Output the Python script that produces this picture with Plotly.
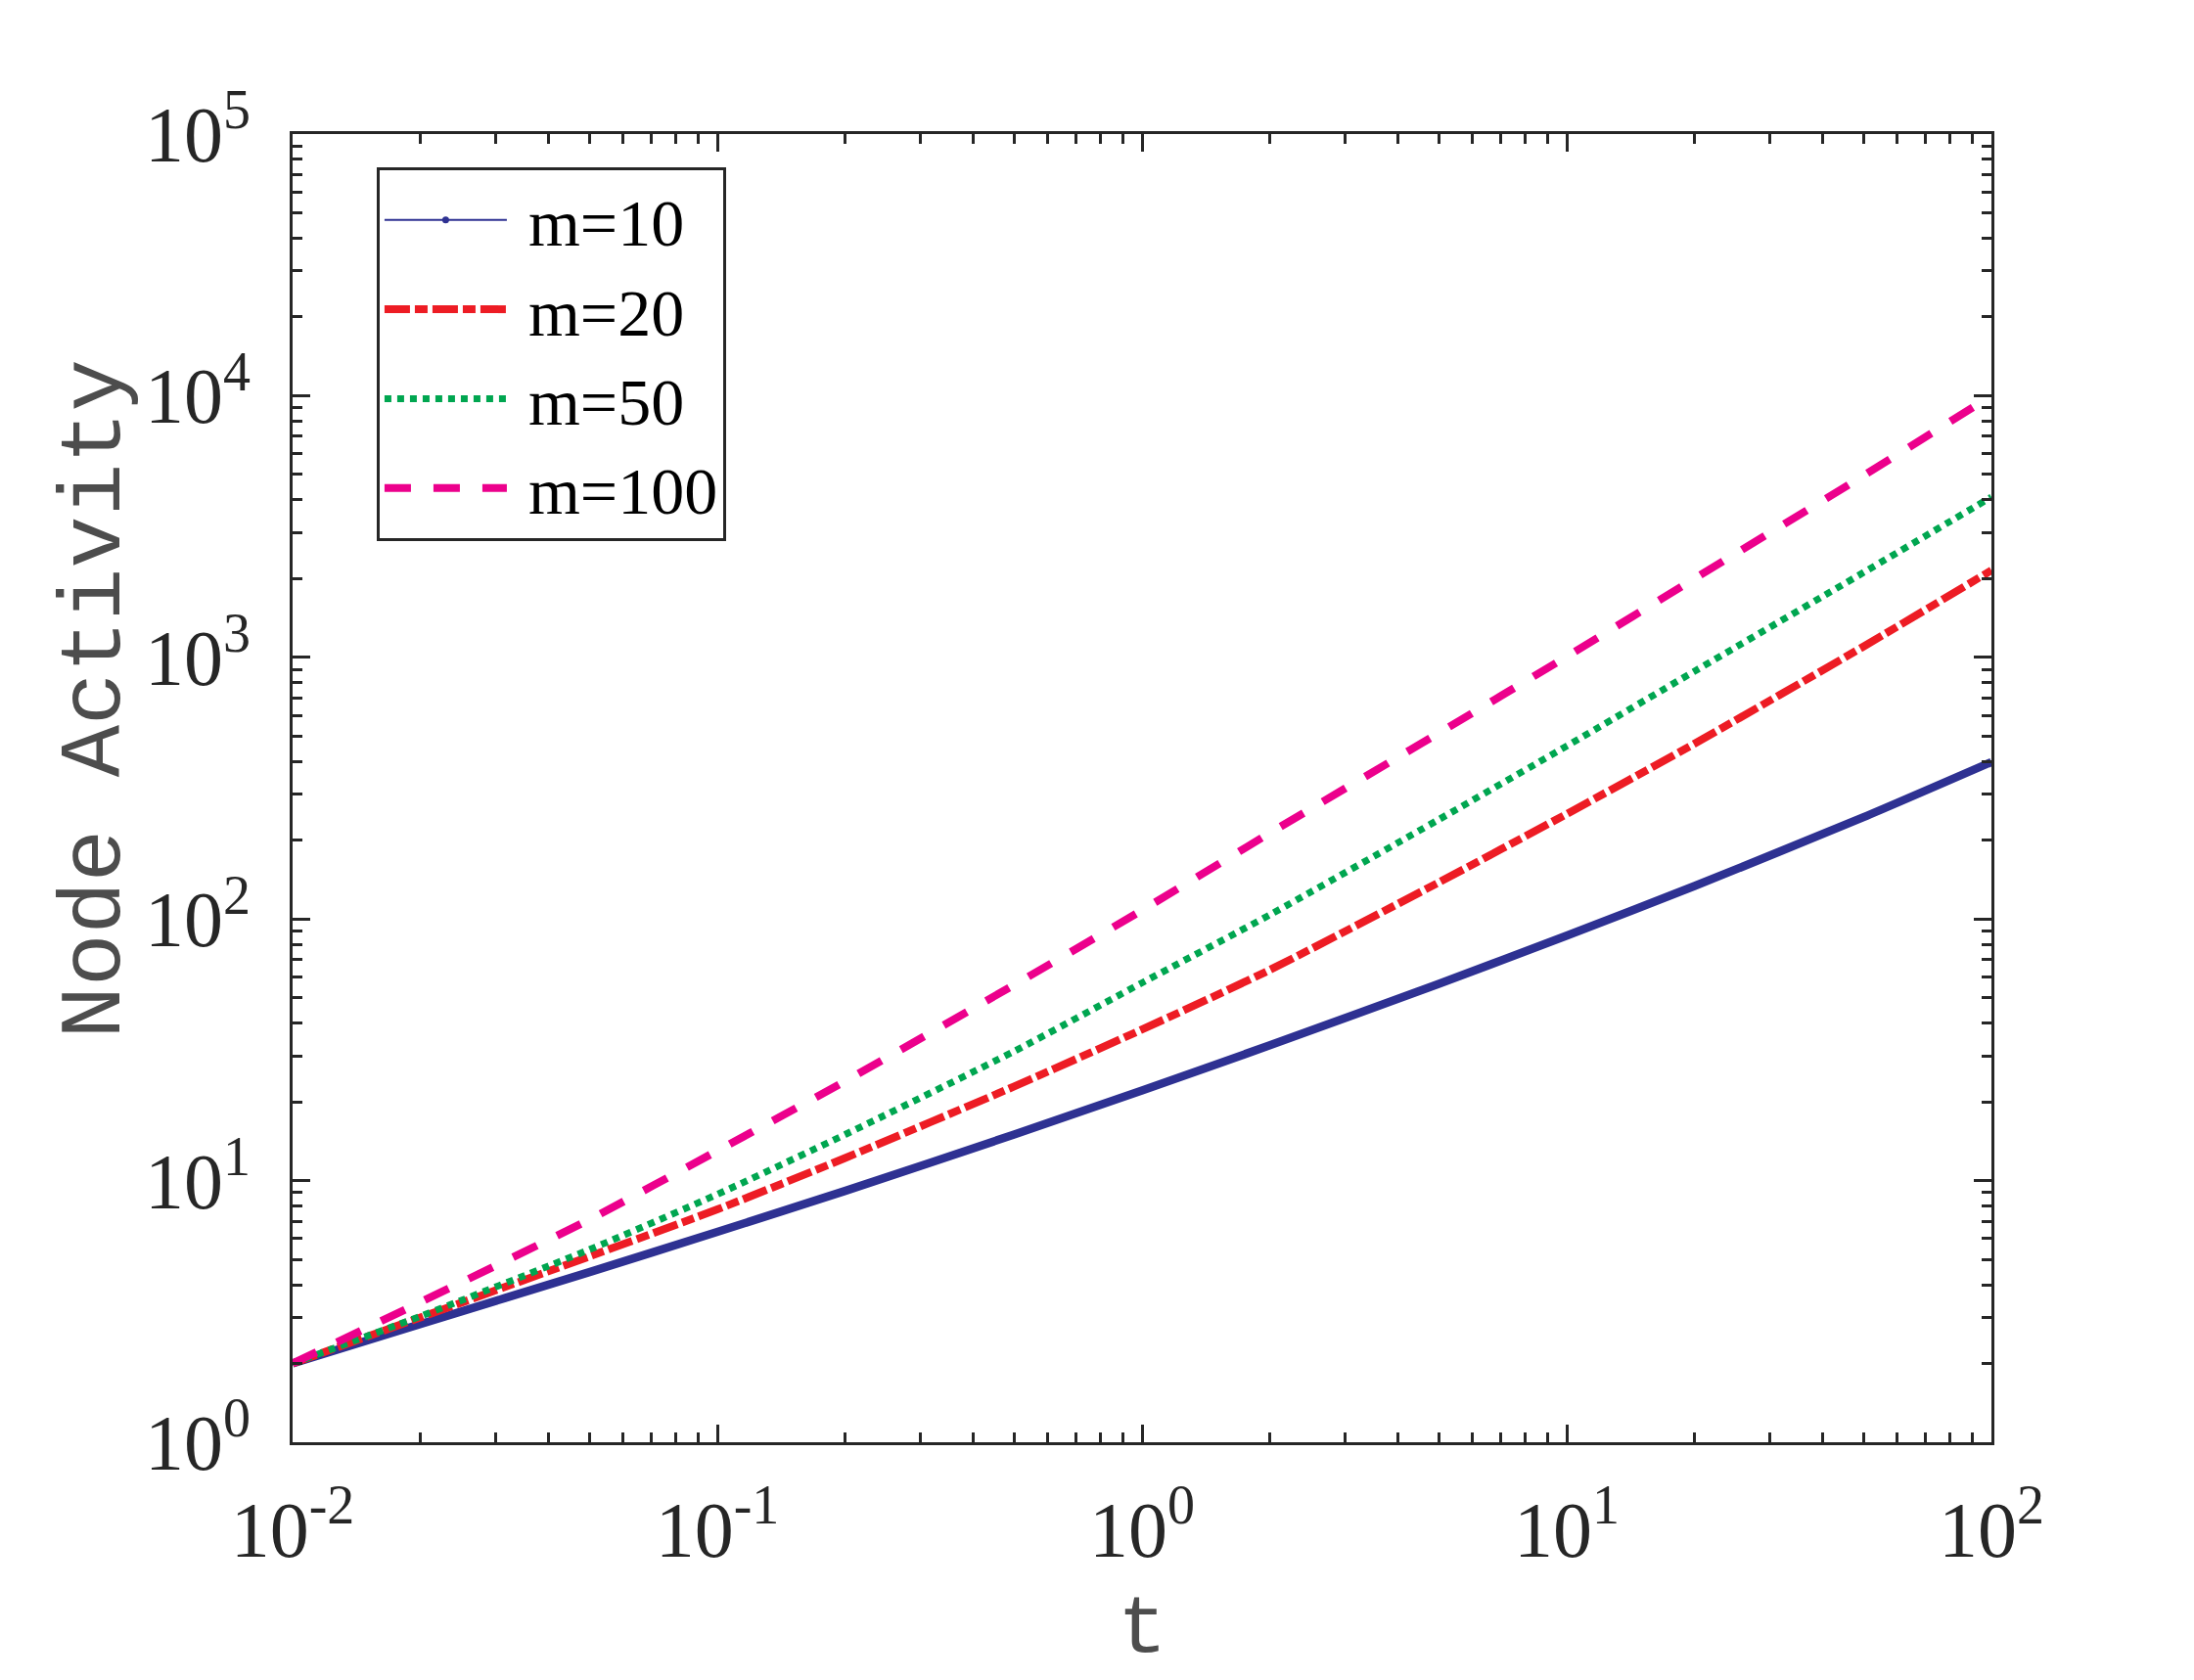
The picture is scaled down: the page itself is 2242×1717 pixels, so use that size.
import plotly.graph_objects as go

# ---- data ----
t_vals = [0.01, 0.02, 0.05, 0.1, 0.2, 0.5, 1, 2, 5, 10, 20, 50, 100]
m10 = [2, 2.83, 4.47, 6.37, 9.13, 15.0, 22.1, 32.9, 56.5, 86.3, 133.6, 245, 398]
m20 = [2, 3.0, 5.13, 7.76, 12.2, 22.9, 37.8, 63.9, 138, 252, 468, 1100, 2150]
m50 = [2, 3.03, 5.45, 8.86, 15.0, 31.2, 57.0, 103.7, 240, 458, 885, 2110, 4100]
m100 = [2, 3.43, 7.1, 13, 24, 56, 108, 213, 514, 1007, 2000, 4950, 10000]

series_names = ["m=10", "m=20", "m=50", "m=100"]

x_tickvals = [0.01, 0.1, 1, 10, 100]
x_ticktext = ["10<sup>-2</sup>", "10<sup>-1</sup>", "10<sup>0</sup>", "10<sup>1</sup>", "10<sup>2</sup>"]
y_tickvals = [1, 10, 100, 1000, 10000, 100000]
y_ticktext = ["10<sup>0</sup>", "10<sup>1</sup>", "10<sup>2</sup>", "10<sup>3</sup>", "10<sup>4</sup>", "10<sup>5</sup>"]

x_title = "t"
y_title = "Node Activity"

# ---- styles ----
AX = "#262626"
TITLE_C = "#4d4d4d"
C_BLUE = "#2E3192"
C_RED = "#ED1C24"
C_GREEN = "#00A650"
C_PINK = "#EC008C"
MONO = "Courier New, Liberation Mono, monospace"

x_minor = [k * 10.0 ** e for e in range(-2, 2) for k in range(2, 10)]
y_minor = [k * 10.0 ** e for e in range(0, 5) for k in range(2, 10)]

fig = go.Figure()

# m=10: thick line in plot, thin line+dot in legend
fig.add_trace(go.Scatter(x=t_vals, y=m10, mode="lines", showlegend=False,
                         line=dict(color=C_BLUE, width=8.5, shape="spline", smoothing=0.6)))
fig.add_trace(go.Scatter(x=[None], y=[None], mode="lines+markers", name=" " + series_names[0],
                         line=dict(color=C_BLUE, width=2), marker=dict(color=C_BLUE, size=7)))
fig.add_trace(go.Scatter(x=t_vals, y=m20, mode="lines", name=" " + series_names[1],
                         line=dict(color=C_RED, width=8, dash="26px,5px,13px,5px",
                                   shape="spline", smoothing=0.6)))
fig.add_trace(go.Scatter(x=t_vals, y=m50, mode="lines", name=" " + series_names[2],
                         line=dict(color=C_GREEN, width=7, dash="7px,6px",
                                   shape="spline", smoothing=0.6)))
fig.add_trace(go.Scatter(x=t_vals, y=m100, mode="lines", name=" " + series_names[3],
                         line=dict(color=C_PINK, width=8, dash="27px,23px",
                                   shape="spline", smoothing=0.6)))

common_axis = dict(
    type="log", showline=True, linecolor=AX, linewidth=3, mirror="allticks",
    ticks="inside", ticklen=18, tickwidth=3, tickcolor=AX,
    tickmode="array", showgrid=False, zeroline=False,
    tickfont=dict(family="Liberation Serif", size=80, color=AX),
)

fig.update_xaxes(range=[-2, 2], tickvals=x_tickvals, ticktext=x_ticktext,
                 ticklabelstandoff=18,
                 minor=dict(ticks="inside", ticklen=10, tickwidth=2.5, tickcolor=AX,
                            tickmode="array", tickvals=x_minor, showgrid=False),
                 **common_axis)
fig.update_yaxes(range=[0, 5], tickvals=y_tickvals, ticktext=y_ticktext,
                 ticklabelstandoff=24,
                 minor=dict(ticks="inside", ticklen=10, tickwidth=2.5, tickcolor=AX,
                            tickmode="array", tickvals=y_minor, showgrid=False),
                 **common_axis)

fig.add_annotation(text=y_title, xref="paper", yref="paper", x=-0.1155, y=0.5685,
                   textangle=-90, showarrow=False, xanchor="center", yanchor="middle",
                   font=dict(family=MONO, size=89, color=TITLE_C))
fig.add_annotation(text=x_title, xref="paper", yref="paper", x=0.5, y=-0.18,
                   showarrow=False, xanchor="center", yanchor="bottom",
                   font=dict(family=MONO, size=84, color=TITLE_C))

fig.update_layout(
    width=2242, height=1717, autosize=False,
    margin=dict(l=291, r=215, t=129, b=251),
    paper_bgcolor="white", plot_bgcolor="white",
    font=dict(family="Liberation Serif"),
    legend=dict(x=0.0495, y=0.9746, xanchor="left", yanchor="top",
                bgcolor="white", bordercolor=AX, borderwidth=3,
                font=dict(family="Liberation Serif", size=68, color="black"),
                itemwidth=125, tracegroupgap=0),
)

fig.write_html("out.html")
